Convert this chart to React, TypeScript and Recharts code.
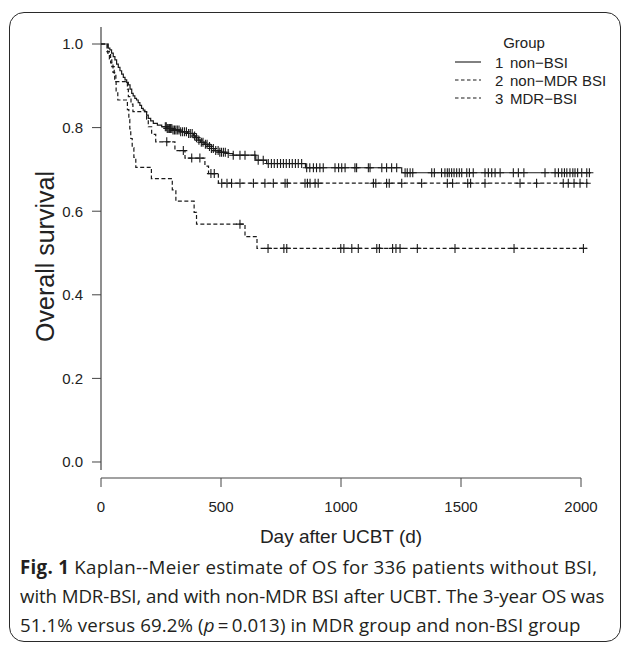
import React from 'react';
import { ComposedChart, Line, Scatter, XAxis, YAxis, ReferenceLine, Legend, Label } from 'recharts';

// ---- Group 1: non-BSI (solid) ----
const nonBsiTimes = [0, 30, 37, 44, 51, 58, 65, 72, 79, 86, 93, 100, 107, 114, 121, 128, 134, 141, 148, 155, 162, 169, 176, 183, 190, 197, 207, 218, 235, 253, 274, 300, 330, 360, 385, 395, 405, 415, 430, 445, 460, 475, 490, 520, 550, 645, 690, 852, 1253, 2040];
const nonBsiSurv = [1, 0.99, 0.986, 0.978, 0.97, 0.962, 0.952, 0.944, 0.936, 0.928, 0.92, 0.914, 0.908, 0.902, 0.892, 0.882, 0.876, 0.87, 0.866, 0.86, 0.853, 0.846, 0.842, 0.838, 0.83, 0.822, 0.816, 0.81, 0.806, 0.802, 0.798, 0.794, 0.79, 0.786, 0.78, 0.776, 0.77, 0.765, 0.76, 0.755, 0.75, 0.745, 0.741, 0.738, 0.734, 0.722, 0.714, 0.704, 0.692, 0.692];
const nonBsiCensor = [268, 272, 276, 280, 285, 290, 295, 300, 306, 312, 318, 325, 332, 340, 348, 356, 365, 372, 380, 390, 398, 408, 418, 425, 435, 442, 452, 460, 468, 478, 488, 495, 502, 510, 518, 530, 551, 579, 600, 641, 655, 676, 697, 710, 722, 735, 748, 760, 772, 785, 797, 810, 822, 836, 857, 870, 885, 898, 912, 926, 975, 990, 1003, 1017, 1058, 1065, 1114, 1121, 1170, 1190, 1211, 1232, 1267, 1276, 1288, 1299, 1378, 1389, 1419, 1433, 1443, 1451, 1461, 1471, 1482, 1493, 1503, 1524, 1535, 1551, 1600, 1614, 1628, 1642, 1663, 1718, 1739, 1762, 1850, 1892, 1906, 1920, 1931, 1941, 1954, 1966, 1975, 1986, 2003, 2024, 2035];

// ---- Group 2: non-MDR BSI (dashed) ----
const nonMdrTimes = [0, 25, 35, 45, 55, 62, 110, 114, 125, 133, 190, 197, 211, 228, 308, 350, 433, 448, 489, 2030];
const nonMdrSurv = [1, 0.982, 0.964, 0.946, 0.928, 0.91, 0.892, 0.874, 0.856, 0.838, 0.82, 0.802, 0.784, 0.766, 0.745, 0.727, 0.708, 0.69, 0.667, 0.667];
const nonMdrCensor = [274, 343, 378, 412, 458, 472, 503, 525, 544, 579, 635, 683, 718, 767, 776, 850, 860, 871, 892, 905, 1135, 1145, 1190, 1201, 1253, 1336, 1443, 1465, 1528, 1540, 1600, 1746, 1815, 1926, 1947, 1971, 1996, 2024];

// ---- Group 3: MDR-BSI (dashed) ----
const mdrTimes = [0, 28, 40, 50, 57, 63, 70, 110, 116, 120, 124, 130, 137, 145, 210, 297, 312, 388, 398, 600, 650, 2024];
const mdrSurv = [1, 0.978, 0.955, 0.932, 0.91, 0.888, 0.866, 0.843, 0.82, 0.797, 0.774, 0.752, 0.729, 0.705, 0.678, 0.651, 0.624, 0.597, 0.569, 0.539, 0.511, 0.511];
const mdrCensor = [579, 696, 762, 774, 999, 1012, 1045, 1072, 1149, 1160, 1215, 1229, 1246, 1318, 1475, 1721, 2010];

const xTicks = [0, 500, 1000, 1500, 2000];
const yTicks = [0, 0.2, 0.4, 0.6, 0.8, 1.0];
const legendTitle = 'Group';
const legendLabels = ['non\u2212BSI', 'non\u2212MDR BSI', 'MDR\u2212BSI'];
const legendNumbers = ['1', '2', '3'];
const legendDashes = [undefined, '3.5 2.5', '3.5 2.5'];

const toSteps = (times: number[], surv: number[]) => times.map((t, i) => ({ t, s: surv[i] }));
const censorPoints = (cens: number[], times: number[], surv: number[]) =>
  cens.map((t) => {
    let s = surv[0];
    for (let i = 0; i < times.length; i++) if (times[i] <= t) s = surv[i];
    return { t, s };
  });

const nonBsiLine = toSteps(nonBsiTimes, nonBsiSurv);
const nonMdrLine = toSteps(nonMdrTimes, nonMdrSurv);
const mdrLine = toSteps(mdrTimes, mdrSurv);
const nonBsiMarks = censorPoints(nonBsiCensor, nonBsiTimes, nonBsiSurv);
const nonMdrMarks = censorPoints(nonMdrCensor, nonMdrTimes, nonMdrSurv);
const mdrMarks = censorPoints(mdrCensor, mdrTimes, mdrSurv);

const INK = '#1a1a1a';
const AXIS = '#444';
const FONT = '"Liberation Sans", Arial, sans-serif';

const Plus = (props: any) => {
  const { cx, cy } = props;
  if (cx == null || cy == null) return null;
  return <path d={`M${cx - 4},${cy}h8M${cx},${cy - 4.5}v9`} stroke={INK} strokeWidth={1.1} fill="none" />;
};

const renderLegend = () => {
  const ox = 430;
  const oy = 25;
  return (
    <svg width={200} height={90} style={{ display: 'block' }}>
      <text x={524 - ox} y={42 - oy} textAnchor="middle" dominantBaseline="central" fontFamily={FONT} fontSize={15} fill="#222">
        {legendTitle}
      </text>
      {legendLabels.map((lab, i) => {
        const y = 62 + 18 * i - oy;
        return (
          <g key={lab}>
            <line x1={455 - ox} x2={481 - ox} y1={y} y2={y} stroke={INK} strokeWidth={1.1} strokeDasharray={legendDashes[i]} />
            <text x={495 - ox} y={y} dominantBaseline="central" fontFamily={FONT} fontSize={15} fill="#222">
              {legendNumbers[i]}
            </text>
            <text x={510 - ox} y={y} dominantBaseline="central" fontFamily={FONT} fontSize={15} fill="#222">
              {lab}
            </text>
          </g>
        );
      })}
    </svg>
  );
};

const captionStyle: React.CSSProperties = {
  position: 'absolute',
  left: 20,
  whiteSpace: 'nowrap',
  fontFamily: '"Open Sans", sans-serif',
  fontSize: 18.7,
  color: '#231f20',
  lineHeight: '22px',
};

export default function App() {
  return (
    <div style={{ position: 'absolute', left: 0, top: 0, width: 630, height: 645, overflow: 'hidden', background: '#fff' }}>
      <div
        style={{
          position: 'absolute',
          left: 9,
          top: 12,
          width: 610,
          height: 628,
          border: '1.5px solid #2a2a2a',
          borderRadius: 15,
        }}
      />
      <div style={{ position: 'absolute', left: 0, top: 0 }}>
        <ComposedChart width={630} height={560} margin={{ top: 27, right: 25, bottom: 22, left: 41 }}>
          <XAxis
            dataKey="t"
            type="number"
            domain={[0, 2100]}
            allowDataOverflow
            ticks={xTicks}
            axisLine={false}
            tickSize={9}
            tickMargin={14}
            height={60}
            tickLine={{ stroke: AXIS }}
            tick={{ fill: '#222', fontSize: 15, fontFamily: FONT }}
          >
            <Label
              content={() => (
                <text x={341} y={536} textAnchor="middle" dominantBaseline="central" fontFamily={FONT} fontSize={19} fill="#222">
                  Day after UCBT (d)
                </text>
              )}
            />
          </XAxis>
          <YAxis
            type="number"
            domain={[-0.0383, 1.0407]}
            allowDataOverflow
            ticks={yTicks}
            tickFormatter={(v: number) => v.toFixed(1)}
            axisLine={false}
            tickSize={9}
            tickMargin={9}
            width={60}
            tickLine={{ stroke: AXIS }}
            tick={{ fill: '#222', fontSize: 15, fontFamily: FONT }}
          >
            <Label
              content={(p: any) => {
                const vb = p.viewBox || { y: 27, height: 451 };
                const cx = 45;
                const cy = vb.y + vb.height / 2 + 4;
                return (
                  <text x={cx} y={cy} transform={`rotate(-90 ${cx} ${cy})`} textAnchor="middle" dominantBaseline="central" fontFamily={FONT} fontSize={25} fill="#222">
                    Overall survival
                  </text>
                );
              }}
            />
          </YAxis>
          <ReferenceLine segment={[{ x: 0, y: -0.019 }, { x: 0, y: 1.0407 }]} stroke={AXIS} strokeWidth={1.2} ifOverflow="visible" />
          <ReferenceLine segment={[{ x: 0, y: -0.0383 }, { x: 2000, y: -0.0383 }]} stroke={AXIS} strokeWidth={1.2} ifOverflow="visible" />
          <Legend layout="horizontal" align="center" verticalAlign="middle" content={renderLegend} wrapperStyle={{ position: 'absolute', left: 430, top: 25, width: 200, height: 90 }} />
          <Line data={mdrLine} dataKey="s" type="stepAfter" stroke={INK} strokeWidth={1.2} strokeDasharray="4 2.5" dot={false} activeDot={false} isAnimationActive={false} legendType="none" />
          <Line data={nonMdrLine} dataKey="s" type="stepAfter" stroke={INK} strokeWidth={1.2} strokeDasharray="4 2.5" dot={false} activeDot={false} isAnimationActive={false} legendType="none" />
          <Line data={nonBsiLine} dataKey="s" type="stepAfter" stroke={INK} strokeWidth={1.2} dot={false} activeDot={false} isAnimationActive={false} legendType="none" />
          <Scatter data={mdrMarks} dataKey="s" shape={Plus} isAnimationActive={false} legendType="none" />
          <Scatter data={nonMdrMarks} dataKey="s" shape={Plus} isAnimationActive={false} legendType="none" />
          <Scatter data={nonBsiMarks} dataKey="s" shape={Plus} isAnimationActive={false} legendType="none" />
        </ComposedChart>
      </div>
      <div style={{ ...captionStyle, top: 556, letterSpacing: 0.3 }}>
        <b style={{ fontWeight: 700 }}>Fig. 1</b> Kaplan--Meier estimate of OS for 336 patients without BSI,
      </div>
      <div style={{ ...captionStyle, top: 585, letterSpacing: -0.1 }}>
        with MDR-BSI, and with non-MDR BSI after UCBT. The 3-year OS was
      </div>
      <div style={{ ...captionStyle, top: 614, letterSpacing: 0.1 }}>
        51.1% versus 69.2% (<i>p</i>&thinsp;=&thinsp;0.013) in MDR group and non-BSI group
      </div>
    </div>
  );
}
